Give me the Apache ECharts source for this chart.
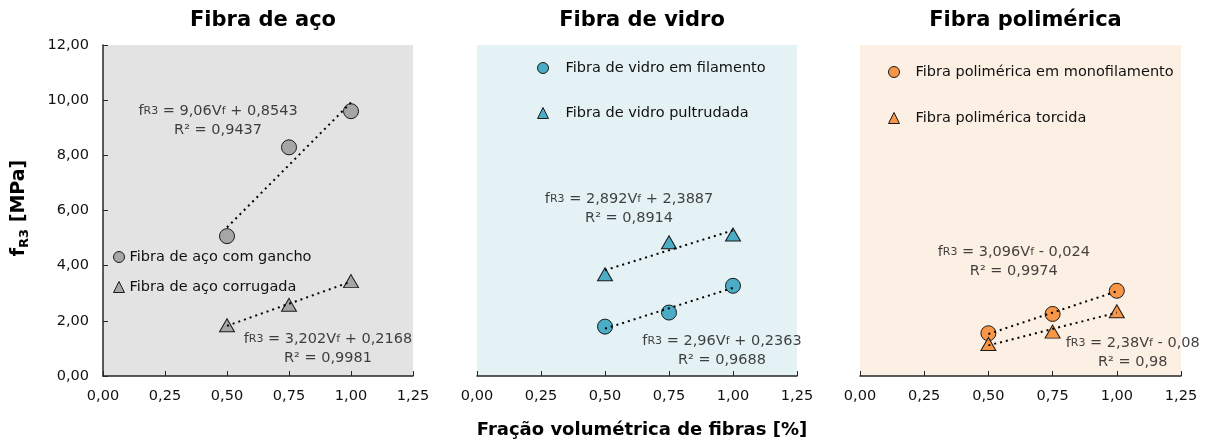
<!DOCTYPE html>
<html>
<head>
<meta charset="utf-8">
<script src="https://cdn.jsdelivr.net/npm/echarts@6/dist/echarts.min.js"></script>
<style>
  html, body { margin: 0; padding: 0; background: #ffffff; }
  #chart { width: 1209px; height: 448px; }
</style>
</head>
<body>
<div id="chart"></div>
<script>
// Residual flexural strength fR3 versus fibre volume fraction, three fibre families
const xFrac = [0.50, 0.75, 1.00];

const steelHook = [5.07, 8.29, 9.60];
const steelCorr = [1.84, 2.58, 3.44];
const glassFil = [1.79, 2.30, 3.27];
const glassPul = [3.69, 4.85, 5.13];
const polyMono = [1.55, 2.25, 3.09];
const polyTwist = [1.16, 1.61, 2.35];

const panelTitles = ['Fibra de aço', 'Fibra de vidro', 'Fibra polimérica'];
const seriesNames = [
  'Fibra de aço com gancho', 'Fibra de aço corrugada',
  'Fibra de vidro em filamento', 'Fibra de vidro pultrudada',
  'Fibra polimérica em monofilamento', 'Fibra polimérica torcida'
];

// Linear trend lines fR3 = a·Vf + b and their R²
const fitSlope = [9.06, 3.202, 2.96, 2.892, 3.096, 2.38];
const fitIntercept = [0.8543, 0.2168, 0.2363, 2.3887, -0.024, -0.08];
const fitR2 = [0.9437, 0.9981, 0.9688, 0.8914, 0.9974, 0.98];

const FONT = 'DejaVu Sans';
const TXT = '#111111';
const comma = v => String(v).replace('.', ',');
const fmt2 = v => v.toFixed(2).replace('.', ',');

const seriesData = [steelHook, steelCorr, glassFil, glassPul, polyMono, polyTwist];
const panelOf = [0, 0, 1, 1, 2, 2];
const symbols = ['circle', 'triangle', 'circle', 'triangle', 'circle', 'triangle'];
const fills = ['#a6a6a6', '#a6a6a6', '#4bacc6', '#4bacc6', '#f79646', '#f79646'];
const panelBg = ['#e3e3e3', '#e4f1f5', '#fcefe3'];

// equation label anchors in data units of each panel
const eqAnchor = [[0.464, 9.25], [0.907, 0.98], [0.957, 0.91], [0.594, 6.05], [0.599, 4.13], [1.062, 0.83]];

const grids = [
  { left: 103, top: 45, width: 310, height: 331 },
  { left: 477, top: 45, width: 320, height: 331 },
  { left: 860, top: 45, width: 321, height: 331 }
];

const xAxes = grids.map((g, i) => ({
  type: 'value', gridIndex: i, min: 0, max: 1.25, interval: 0.25,
  axisLine: { show: true, lineStyle: { color: '#262626', width: 1.5 } },
  axisTick: { show: true, inside: true, length: 5, lineStyle: { color: '#262626' } },
  axisLabel: { color: TXT, fontFamily: FONT, fontSize: 14.5, margin: 13, formatter: fmt2 },
  splitLine: { show: false }
}));

const yAxes = grids.map((g, i) => ({
  type: 'value', gridIndex: i, min: 0, max: 12, interval: 2,
  show: i === 0,
  axisLine: { show: true, lineStyle: { color: '#262626', width: 1.5 } },
  axisTick: { show: true, inside: true, length: 5, lineStyle: { color: '#262626' } },
  axisLabel: { color: TXT, fontFamily: FONT, fontSize: 14.5, margin: 14, formatter: fmt2 },
  splitLine: { show: false }
}));

const series = [];
seriesData.forEach((vals, k) => {
  const p = panelOf[k];
  series.push({
    name: seriesNames[k], type: 'scatter', xAxisIndex: p, yAxisIndex: p,
    symbol: symbols[k], symbolSize: symbols[k] === 'circle' ? 15 : [15, 13],
    itemStyle: { color: fills[k], borderColor: '#1a1a1a', borderWidth: 1, opacity: 1 },
    data: xFrac.map((x, j) => [x, vals[j]]),
    z: 3
  });
});
seriesData.forEach((vals, k) => {
  const p = panelOf[k];
  const a = fitSlope[k], b = fitIntercept[k];
  series.push({
    type: 'line', xAxisIndex: p, yAxisIndex: p, symbol: 'none', silent: true,
    lineStyle: { color: '#000000', width: 2, type: [2, 4] },
    data: [[xFrac[0], a * xFrac[0] + b], [xFrac[2], a * xFrac[2] + b]],
    z: 4
  });
  const sign = b < 0 ? ' - ' : ' + ';
  const eq = '{n|f}{s|R3}{n| = ' + comma(a) + 'V}{s|f}{n|' + sign + comma(Math.abs(b)) + '}\n{n|R² = ' + comma(fitR2[k]) + '}';
  series.push({
    type: 'scatter', xAxisIndex: p, yAxisIndex: p, silent: true,
    symbolSize: 1, itemStyle: { color: 'rgba(0,0,0,0)' },
    data: [eqAnchor[k]],
    label: {
      show: true, position: 'inside', formatter: eq, align: 'center',
      rich: {
        n: { fontFamily: FONT, fontSize: 14.5, color: TXT, lineHeight: 19, align: 'center' },
        s: { fontFamily: FONT, fontSize: 11, color: TXT, lineHeight: 19, verticalAlign: 'middle' }
      }
    },
    z: 5
  });
});

const legendText = { color: TXT, fontFamily: FONT, fontSize: 14.5, lineHeight: 16 };
const legends = [
  { data: seriesNames.slice(0, 2), left: 113, top: 249, itemGap: 14, textStyle: legendText },
  { data: seriesNames.slice(2, 4), left: 537, top: 60, itemGap: 29, textStyle: Object.assign({ padding: [0, 0, 0, 12] }, legendText) },
  { data: seriesNames.slice(4, 6), left: 888, top: 64, itemGap: 30, textStyle: Object.assign({ padding: [0, 0, 0, 11] }, legendText) }
].map(l => Object.assign({
  selectedMode: false, padding: 0, orient: 'vertical', itemWidth: 11, itemHeight: 11,
  itemStyle: { borderColor: '#1a1a1a', borderWidth: 1 }
}, l));

const titles = panelTitles.map((t, i) => ({
  text: t, left: grids[i].left + grids[i].width / 2, top: 5, textAlign: 'center',
  textStyle: { fontFamily: FONT, fontWeight: 'bold', fontSize: 21, color: '#000000' }
}));

const chart = echarts.init(document.getElementById('chart'), null, { renderer: 'canvas' });
chart.setOption({
  backgroundColor: '#ffffff',
  animation: false,
  title: titles,
  legend: legends,
  grid: grids.map((g, i) => Object.assign({ show: true, backgroundColor: panelBg[i], borderWidth: 0 }, g)),
  xAxis: xAxes,
  yAxis: yAxes,
  series: series,
  graphic: [
    {
      type: 'text', x: 19, y: 208, rotation: Math.PI / 2,
      style: {
        text: '{f|f}{s|R3}{f| [MPa]}', align: 'center', verticalAlign: 'middle',
        rich: {
          f: { fontFamily: FONT, fontWeight: 'bold', fontSize: 19, color: '#000', lineHeight: 24 },
          s: { fontFamily: FONT, fontWeight: 'bold', fontSize: 13, color: '#000', lineHeight: 24, verticalAlign: 'bottom' }
        }
      }
    },
    {
      type: 'text', x: 642, y: 430,
      style: {
        text: 'Fração volumétrica de fibras [%]', align: 'center', verticalAlign: 'middle',
        fontFamily: FONT, fontWeight: 'bold', fontSize: 18, fill: '#000'
      }
    }
  ]
});
</script>
</body>
</html>
